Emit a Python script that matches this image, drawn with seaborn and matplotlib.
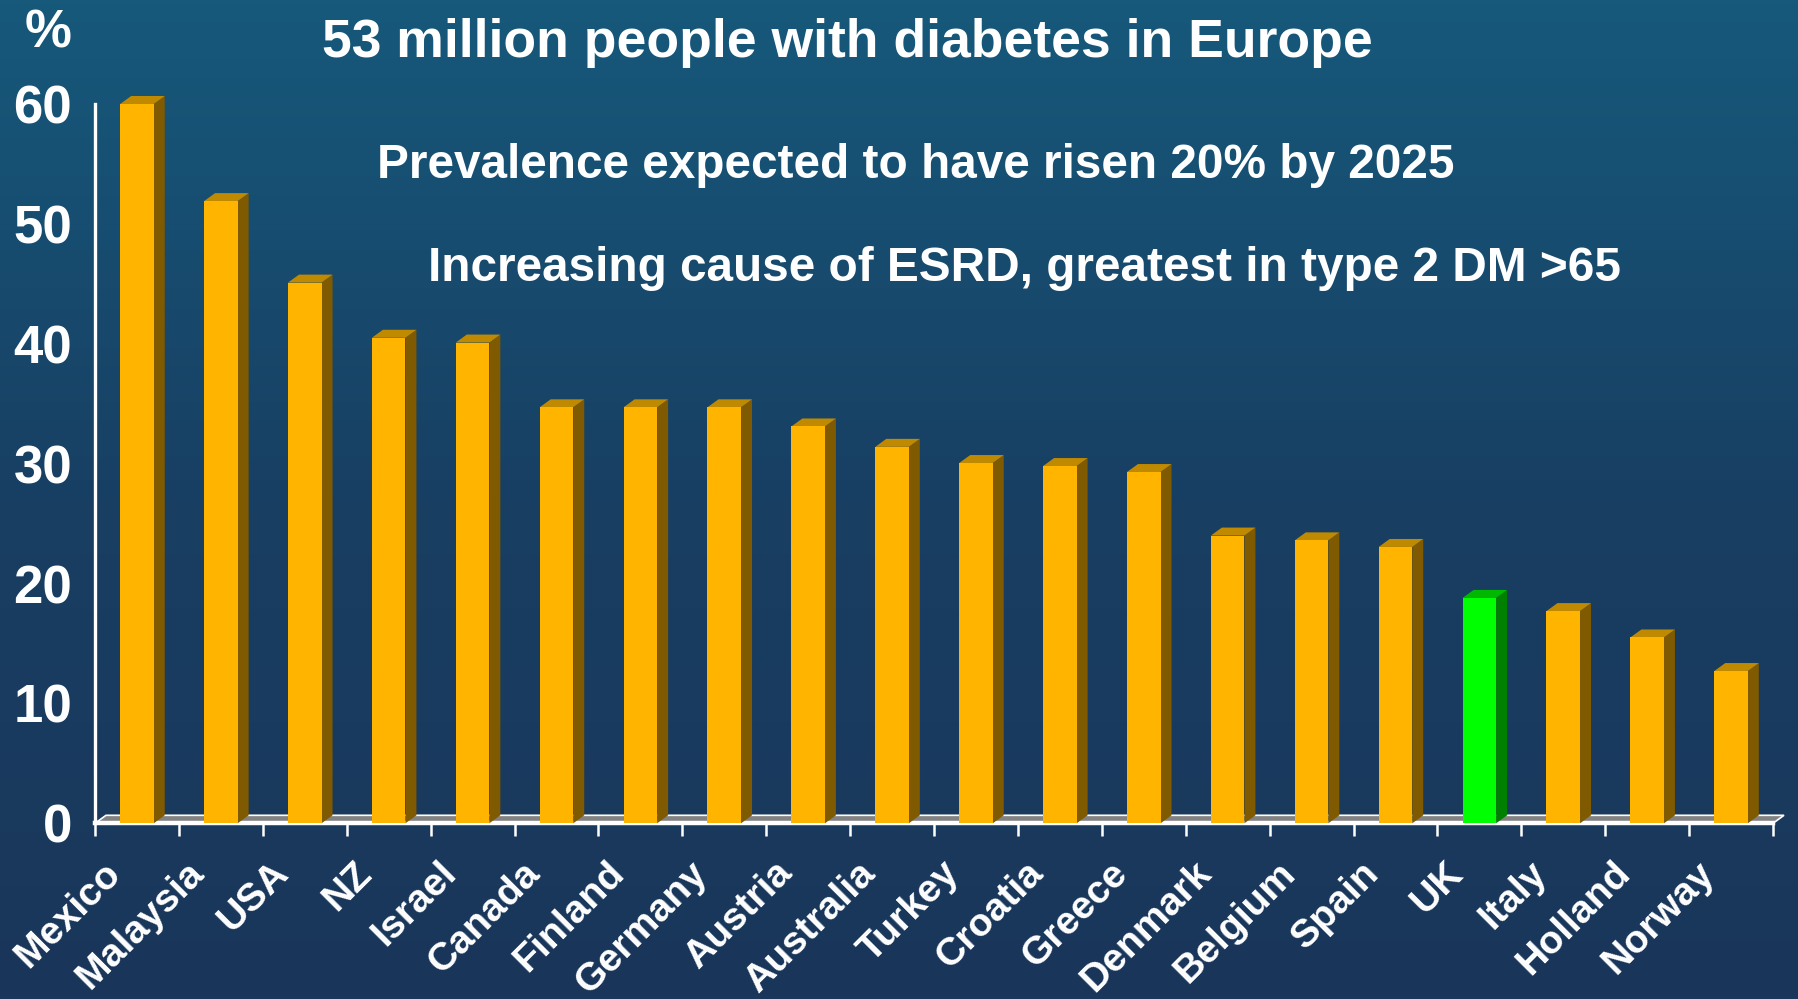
import numpy as np
import pandas as pd
import matplotlib
matplotlib.use("Agg")
import matplotlib.pyplot as plt
import matplotlib.transforms as mtransforms
from matplotlib.patches import Polygon
from matplotlib.colors import LinearSegmentedColormap
import seaborn as sns

# ---------------- data ----------------
countries = ["Mexico", "Malaysia", "USA", "NZ", "Israel", "Canada", "Finland",
             "Germany", "Austria", "Australia", "Turkey", "Croatia", "Greece",
             "Denmark", "Belgium", "Spain", "UK", "Italy", "Holland", "Norway"]
prevalence = [60.0, 51.9, 45.1, 40.5, 40.1, 34.7, 34.7, 34.7, 33.1, 31.4,
              30.05, 29.8, 29.3, 24.0, 23.6, 23.05, 18.8, 17.7, 15.5, 12.7]
highlight_country = "UK"
y_ticks = [0, 10, 20, 30, 40, 50, 60]
title = "53 million people with diabetes in Europe"
subtitle1 = "Prevalence expected to have risen 20% by 2025"
subtitle2 = "Increasing cause of ESRD, greatest in type 2 DM >65"
unit_label = "%"

# ---------------- style ----------------
sns.set_theme(style="white")
plt.rcParams["font.family"] = ["Liberation Sans", "DejaVu Sans"]
plt.rcParams["font.weight"] = "bold"

W, H = 1798, 999
fig = plt.figure(figsize=(W / 100, H / 100), dpi=100)

# background gradient
bg = fig.add_axes([0, 0, 1, 1], zorder=-10)
grad = np.linspace(0, 1, 256).reshape(-1, 1)
cmap = LinearSegmentedColormap.from_list("bg", ["#16597b", "#183f63", "#1a365a"])
bg.imshow(grad, aspect="auto", cmap=cmap, extent=[0, 1, 0, 1], origin="upper")
bg.axis("off")

# main axes
x_left, x_right = 95, 1773
y_zero, y_top = 823.3, 104
ax = fig.add_axes([x_left / W, 1 - y_zero / H, (x_right - x_left) / W, (y_zero - y_top) / H])
ax.patch.set_alpha(0)

df = pd.DataFrame({"country": countries, "value": prevalence})
df["group"] = np.where(df["country"] == highlight_country, "hl", "base")
front_colors = {"base": "#FFB400", "hl": "#00FF00"}
side_colors = {"base": "#7F5A00", "hl": "#008000"}
top_colors = {"base": "#C08A00", "hl": "#00B800"}

sns.barplot(data=df, x="country", y="value", hue="group", palette=front_colors,
            width=0.4, dodge=False, legend=False, saturation=1, ax=ax, zorder=3,
            linewidth=0)

n = len(countries)
ax.set_xlim(-0.5, n - 0.5)
ax.set_ylim(0, 60)

# pixel -> data conversions for the 3D depth
px_per_x = (x_right - x_left) / n
px_per_y = (y_zero - y_top) / 60.0
ddx = 11 / px_per_x
ddy = 8 / px_per_y

# floor
floor = Polygon([(-0.5, 0), (n - 0.5, 0), (n - 0.5 + ddx, ddy), (-0.5 + ddx, ddy)],
                closed=True, facecolor="#828282", edgecolor="white", linewidth=1.2,
                zorder=1, clip_on=False)
ax.add_patch(floor)

# 3D faces derived from seaborn bars
bars = [p for p in ax.patches if p is not floor and p.get_height() > 0]
bars.sort(key=lambda p: p.get_x())
for p, grp in zip(bars, df["group"]):
    x0, w, h = p.get_x(), p.get_width(), p.get_height()
    side = Polygon([(x0 + w, 0), (x0 + w, h), (x0 + w + ddx, h + ddy), (x0 + w + ddx, ddy)],
                   closed=True, facecolor=side_colors[grp], edgecolor="none",
                   zorder=2.9, clip_on=False)
    top = Polygon([(x0, h), (x0 + w, h), (x0 + w + ddx, h + ddy), (x0 + ddx, h + ddy)],
                  closed=True, facecolor=top_colors[grp], edgecolor="none",
                  zorder=2.9, clip_on=False)
    ax.add_patch(side)
    ax.add_patch(top)

# axes styling
for s in ["top", "right"]:
    ax.spines[s].set_visible(False)
ax.spines["left"].set_color("white")
ax.spines["left"].set_linewidth(2.4)
ax.spines["bottom"].set_color("white")
ax.spines["bottom"].set_linewidth(3.2)
ax.spines["bottom"].set_zorder(2.5)
ax.grid(False)
ax.set_xlabel("")
ax.set_ylabel("")

ax.set_yticks(y_ticks)
ax.set_yticklabels([str(v) for v in y_ticks])
ax.tick_params(axis="y", which="major", direction="out", length=9.4, width=1.6,
               color="white", labelcolor="white", labelsize=38, pad=7)

ax.set_xticks(np.arange(n))
ax.set_xticks(np.arange(-0.5, n, 1.0), minor=True)
ax.tick_params(axis="x", which="major", length=0, labelsize=28.3, labelcolor="white",
               pad=32)
ax.tick_params(axis="x", which="minor", direction="out", length=9, width=1.8,
               color="white", bottom=True)
shift = mtransforms.ScaledTranslation(-22 / 100, 0, fig.dpi_scale_trans)
for lab in ax.get_xticklabels():
    lab.set_rotation(45)
    lab.set_ha("right")
    lab.set_va("center")
    lab.set_rotation_mode("anchor")
    lab.set_fontweight("bold")
    lab.set_transform(lab.get_transform() + shift)
for lab in ax.get_yticklabels():
    lab.set_fontweight("bold")

# texts
fig.text(48 / W, 1 - 33 / H, unit_label, color="white", fontsize=38,
         fontweight="bold", ha="center", va="center")
fig.text(847 / W, 1 - 57 / H, title, color="white", fontsize=38.5,
         fontweight="bold", ha="center", va="baseline")
fig.text(916 / W, 1 - 178 / H, subtitle1, color="white", fontsize=34.4,
         fontweight="bold", ha="center", va="baseline")
fig.text(1024 / W, 1 - 281 / H, subtitle2, color="white", fontsize=34.4,
         fontweight="bold", ha="center", va="baseline")

fig.savefig("out.png", dpi=100)
